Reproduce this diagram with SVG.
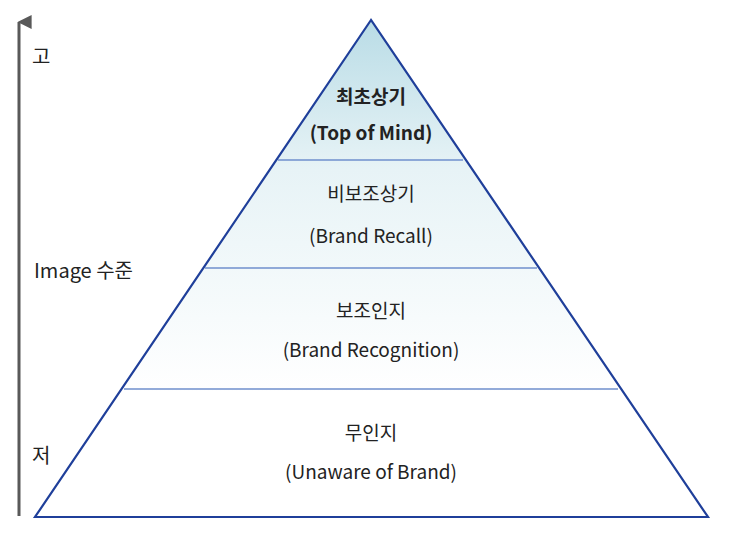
<svg xmlns="http://www.w3.org/2000/svg" width="740" height="556" viewBox="0 0 740 556">
<style>
text{font-family:"Noto Sans CJK KR","Noto Sans",sans-serif;fill:#222;text-anchor:middle}
.t{font-size:19px}
.b{font-weight:bold}
.l{text-anchor:start;font-size:20px}
.div{stroke:#6f8fcc;stroke-width:1.3}
</style>
<defs>
<linearGradient id="g" x1="0" y1="20" x2="0" y2="517" gradientUnits="userSpaceOnUse">
<stop offset="0" stop-color="#b9dce6"/>
<stop offset="0.3" stop-color="#e7f3f6"/>
<stop offset="0.75" stop-color="#ffffff"/>
<stop offset="1" stop-color="#ffffff"/>
</linearGradient>
<marker id="ah" viewBox="0 0 10 10" refX="5" refY="1" markerWidth="14" markerHeight="14" markerUnits="userSpaceOnUse" orient="auto-start-reverse">
<path d="M0,10 L5,0 L10,10 Z" fill="#595959"/>
</marker>
</defs>
<g id="axis">
<line x1="19" y1="516" x2="19" y2="22" stroke="#595959" stroke-width="3" marker-end="url(#ah)"/>
<text class="l" x="32" y="64">고</text>
<text class="l" x="34" y="278">Image 수준</text>
<text class="l" x="32" y="463">저</text>
</g>
<g id="pyramid">
<polygon points="371,20 35,517 708,517" fill="url(#g)" stroke="#1f3f9a" stroke-width="2.2"/>
</g>
<g id="connectors">
<line class="div" x1="278" y1="160" x2="463" y2="160"/>
<line class="div" x1="205" y1="268" x2="537" y2="268"/>
<line class="div" x1="124" y1="389" x2="618" y2="389"/>
</g>
<g id="n1"><text class="t b" x="371" y="104">최초상기</text><text class="t b" x="371" y="140">(Top of Mind)</text></g>
<g id="n2"><text class="t" x="371" y="201">비보조상기</text><text class="t" x="371" y="243">(Brand Recall)</text></g>
<g id="n3"><text class="t" x="371" y="318">보조인지</text><text class="t" x="371" y="357">(Brand Recognition)</text></g>
<g id="n4"><text class="t" x="371" y="440">무인지</text><text class="t" x="371" y="479">(Unaware of Brand)</text></g>
</svg>
